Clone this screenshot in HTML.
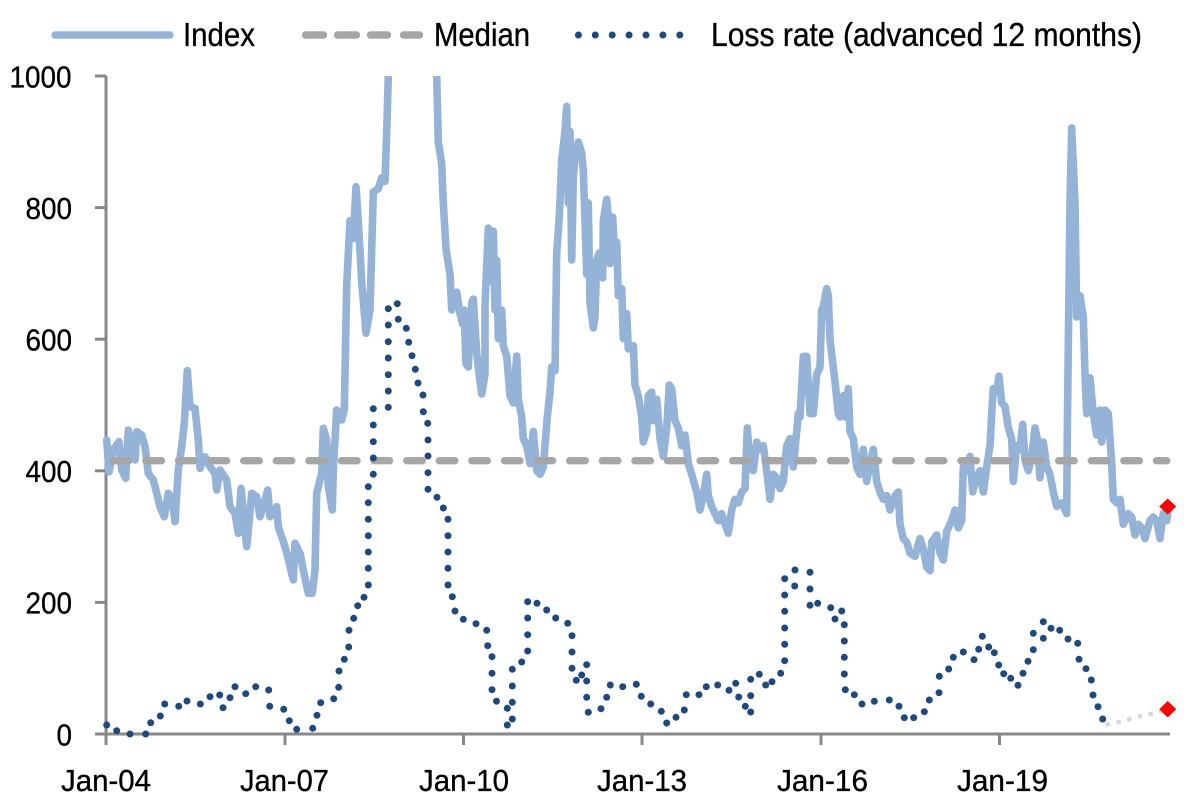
<!DOCTYPE html>
<html><head><meta charset="utf-8"><style>
html,body{margin:0;padding:0;background:#fff;}
svg{display:block;}
text{font-family:"Liberation Sans",Arial,sans-serif;fill:#000;stroke:#000;stroke-width:0.35px;}
</style></head><body>
<svg width="1198" height="811" viewBox="0 0 1198 811" xmlns="http://www.w3.org/2000/svg">
<defs><clipPath id="pc"><rect x="100" y="76" width="1090" height="670"/></clipPath></defs>
<rect width="1198" height="811" fill="#fff"/>

<!-- Legend -->
<line x1="55" y1="35" x2="170" y2="35" stroke="#95B3D7" stroke-width="7.4" stroke-linecap="round"/>
<text x="183" y="46" font-size="33" textLength="72" lengthAdjust="spacingAndGlyphs">Index</text>
<g stroke="#A6A6A6" stroke-width="7.4" stroke-linecap="round">
<line x1="305.5" y1="35" x2="323.5" y2="35"/><line x1="337.5" y1="35" x2="356.5" y2="35"/><line x1="370.5" y1="35" x2="387.5" y2="35"/><line x1="403.5" y1="35" x2="419.5" y2="35"/>
</g>
<text x="434" y="46" font-size="33" textLength="96" lengthAdjust="spacingAndGlyphs">Median</text>
<g fill="#1F497D">
<circle cx="578.4" cy="35" r="3.5"/><circle cx="595.3" cy="35" r="3.5"/><circle cx="612.2" cy="35" r="3.5"/><circle cx="629.1" cy="35" r="3.5"/><circle cx="646" cy="35" r="3.5"/><circle cx="662.9" cy="35" r="3.5"/><circle cx="679.8" cy="35" r="3.5"/>
</g>
<text x="711" y="46" font-size="33" textLength="431" lengthAdjust="spacingAndGlyphs">Loss rate (advanced 12 months)</text>

<!-- Axes -->
<g stroke="#888" stroke-width="3" fill="none">
<line x1="106" y1="76" x2="106" y2="745"/>
<line x1="104.5" y1="734" x2="1170" y2="734"/>
<line x1="95" y1="76" x2="106" y2="76"/>
<line x1="95" y1="207.6" x2="106" y2="207.6"/>
<line x1="95" y1="339.2" x2="106" y2="339.2"/>
<line x1="95" y1="470.8" x2="106" y2="470.8"/>
<line x1="95" y1="602.4" x2="106" y2="602.4"/>
<line x1="95" y1="734" x2="106" y2="734"/>
<line x1="285" y1="734" x2="285" y2="745"/>
<line x1="463.5" y1="734" x2="463.5" y2="745"/>
<line x1="642" y1="734" x2="642" y2="745"/>
<line x1="821" y1="734" x2="821" y2="745"/>
<line x1="999.5" y1="734" x2="999.5" y2="745"/>
</g>

<!-- Y labels -->
<g font-size="31">
<text x="9.5" y="87.3" textLength="62" lengthAdjust="spacingAndGlyphs">1000</text>
<text x="25.5" y="218.9" textLength="46.5" lengthAdjust="spacingAndGlyphs">800</text>
<text x="25.5" y="350.5" textLength="46.5" lengthAdjust="spacingAndGlyphs">600</text>
<text x="25.5" y="482.1" textLength="46.5" lengthAdjust="spacingAndGlyphs">400</text>
<text x="25.5" y="613.7" textLength="46.5" lengthAdjust="spacingAndGlyphs">200</text>
<text x="56.5" y="745.3" textLength="15.5" lengthAdjust="spacingAndGlyphs">0</text>
</g>
<!-- X labels -->
<g font-size="31">
<text x="61" y="791" textLength="90" lengthAdjust="spacingAndGlyphs">Jan-04</text>
<text x="240" y="791" textLength="89" lengthAdjust="spacingAndGlyphs">Jan-07</text>
<text x="419" y="791" textLength="90" lengthAdjust="spacingAndGlyphs">Jan-10</text>
<text x="597" y="791" textLength="90" lengthAdjust="spacingAndGlyphs">Jan-13</text>
<text x="777" y="791" textLength="91" lengthAdjust="spacingAndGlyphs">Jan-16</text>
<text x="957" y="791" textLength="91" lengthAdjust="spacingAndGlyphs">Jan-19</text>
</g>

<g clip-path="url(#pc)">
<!-- Index -->
<polyline fill="none" stroke="#95B3D7" stroke-width="7.6" stroke-linejoin="round" stroke-linecap="round" points="106.7,440 109,471.7 113.3,450 119,441.7 121.7,470 125.7,478.3 128.3,430 131.7,446.7 135,460 136.7,431.7 141.7,435 145,446.7 148.3,473.3 153.3,480 156.7,493.3 160,506.7 164.3,516.7 168.3,493.3 172.3,500 175,521.7 178.3,470 181.7,446.7 184.3,423.3 187.3,370.7 190,406.7 195,408.3 198.3,440 200,468.3 205,456.7 210,466.7 215,473.3 216.7,490 220,470 226.7,480 230,506.7 235,513.3 238.3,533.3 241,488.3 246.7,546.7 251.7,493.3 256.7,496.7 260,516.7 263.3,506.7 267.7,490 270,516.7 276.7,506.7 278.3,526.7 285,546.7 289.3,563.3 293.3,580 295,543.3 300,553.3 303.3,570 308.3,593.3 312.3,593.3 315,570 316.7,493.3 321.7,473.3 323.3,428.3 326.7,440 328.3,486.7 332.3,510 333.3,470 336.7,410 341.7,420 344.3,410 346.7,285 350,220.7 353.3,238.6 356,186.8 358.3,220.7 361.7,281.4 366,333.2 370,310 373.3,192.1 378.3,188.6 381.7,177.9 385,181.4 386.7,131.4 388.3,76 390,30 435,30 436.7,76 438.3,142 441.7,163.6 443.3,202.9 446,249.3 450,274.3 451.7,310 456.7,292.1 460,313.6 462.7,324 464,310 466,363.6 468.3,367 471.7,303 473.3,299 476.7,353 480,381 481.7,394 485,374 485,306 488.3,228 490,281 493.3,231 495,310 496.7,260 498.3,338.6 501.7,310 503.3,345.7 506.7,356 510,395.7 513.3,402.9 516.7,356 518.3,399 521.7,417 523.3,438.6 526.7,445.7 530,463.6 533.3,431.4 536.7,470.7 540,474.3 543.3,467 545,445.7 547.3,417 550,392 551.7,367 555,370.7 556.7,252.9 558.3,231.4 560,202.9 561.7,160 565,131.4 566.7,106.4 568.3,202.9 570,131.4 571.7,260 573.3,177.9 575,156.4 578.3,142 581.7,152.9 583.3,170.7 585,220.7 586.7,274.3 588.3,202.9 590,302.9 593.3,327.9 595,317 596.7,260 599.3,252.9 602.7,277.9 603.3,220.7 606.7,199.3 608.3,217 610,263.6 612.7,217 614,242 616.7,242 618.3,295.7 621.7,288.6 623.3,338.6 626.7,313.6 628.3,349 633.3,345.7 635,385 638.3,395.7 641.7,417 643.3,442 646.7,431.4 648.3,395.7 651.7,392 653.3,420.7 656.7,399.3 660,438.6 663.3,456.4 666.7,427.9 669.3,385 671.7,388.6 675,420.7 678.3,427.9 681.7,445.7 685,435 688.3,463.6 691.7,474.3 696.7,492 700,510 703.3,495.7 706.7,474.3 708.3,495.7 711.7,506.4 715,513.6 718.3,520.7 721.7,513.6 725,524.3 728.3,533.2 731.7,510 735,499.3 738.3,502.9 741.7,492 745,488.6 747.3,427.9 750,467 753.3,470.7 756.7,442 760,449.3 763.3,445.7 766.7,470.7 770,499.3 773.3,474.3 776.7,477.9 780,488.6 783.3,481.4 786.7,445.7 790,438.6 793.3,467 796.7,431.4 798.3,413.6 800,417 803.3,356.4 806.7,356.4 810,413.6 813.3,413.6 816.7,374.3 820,367 821.7,310 823.3,306.4 826.7,288.6 828.3,295.7 830,340 833.3,367 835,381.4 838.3,413.6 840,417 843.3,395.7 845,417 848.3,388.6 850,431.4 853.3,438.6 856.7,467 860,474.3 863.3,449.3 866.7,481.4 870,463.6 873.3,449.3 876.7,481.4 880,492 883.3,499.3 886.7,495.7 890,510 895,495.7 898.3,492 900,524.3 903.3,538.6 906.7,542 910,553 915,556.4 920,538.6 923.3,549.3 926.7,567 930,570.7 931.7,542 936.7,535 940,552.9 943.3,560 946.7,531.4 951.7,520.7 955,510 958.3,527.9 961.7,520.7 963.3,467 966.7,470.7 970,456.4 972.7,492 976.7,477.9 980,470.7 983.3,492 986.7,467 990,445.7 991.7,413.6 993.3,388.6 996.7,392 999,376 1001.7,402.9 1005,406.4 1008.3,427.9 1011.7,438.6 1013.3,481.4 1016.7,445.7 1020,449.3 1022.7,424.3 1025,460 1028.3,470.7 1031.7,456.4 1035,427.9 1037.3,438.6 1040,477.9 1043.3,442 1046.7,467 1050,474.3 1053.3,492 1056.7,506.4 1061.7,502.9 1066.7,513.6 1067.3,435 1068.3,345.7 1070,202.9 1071.7,127.9 1075,202.9 1076.7,317 1080,295.7 1083.3,317 1085,374.3 1086.7,413.6 1090,377.9 1093.3,413.6 1096.7,435 1100,410 1101.7,442 1105,410 1108.3,413.6 1111.7,463.6 1113.3,499.3 1116.7,502.9 1120,499.3 1123.3,524.3 1128.3,513.6 1131.7,517.1 1135,535 1138.3,524.3 1141.7,527.9 1145,538.6 1150,520.7 1153.3,517.1 1156.7,520.7 1160,538.6 1163.3,513.6 1166.7,520.7 1168.3,510"/>

<!-- Median -->
<line x1="113.3" y1="460.7" x2="1166.7" y2="460.7" stroke="#A6A6A6" stroke-width="7.4" stroke-linecap="round" stroke-dasharray="15.5 17.1"/>
</g>

<!-- Loss rate dots -->
<g fill="#1F497D">
<circle cx="106.7" cy="725" r="3.5"/><circle cx="116.7" cy="730.7" r="3.5"/><circle cx="130" cy="734" r="3.5"/><circle cx="145.7" cy="734" r="3.5"/><circle cx="150.7" cy="722.7" r="3.5"/><circle cx="160.3" cy="716" r="3.5"/><circle cx="164.7" cy="704" r="3.5"/><circle cx="178.7" cy="706.3" r="3.5"/><circle cx="187" cy="701" r="3.5"/><circle cx="200.3" cy="704" r="3.5"/><circle cx="210" cy="696.7" r="3.5"/><circle cx="219.7" cy="695" r="3.5"/><circle cx="223" cy="707.7" r="3.5"/><circle cx="230" cy="697.7" r="3.5"/><circle cx="235" cy="686.7" r="3.5"/><circle cx="245.7" cy="693.7" r="3.5"/><circle cx="255.7" cy="686.7" r="3.5"/><circle cx="268.7" cy="690" r="3.5"/><circle cx="269.7" cy="706.3" r="3.5"/><circle cx="283.7" cy="709.3" r="3.5"/><circle cx="289.3" cy="720.7" r="3.5"/><circle cx="296.7" cy="729.3" r="3.5"/><circle cx="312.7" cy="728.3" r="3.5"/><circle cx="317" cy="715.3" r="3.5"/><circle cx="320.7" cy="702.7" r="3.5"/><circle cx="333.7" cy="698.7" r="3.5"/><circle cx="338.7" cy="687.3" r="3.5"/><circle cx="339" cy="671" r="3.5"/><circle cx="344.3" cy="659.3" r="3.5"/><circle cx="348.7" cy="647" r="3.5"/><circle cx="349" cy="630.3" r="3.5"/><circle cx="353.7" cy="618.3" r="3.5"/><circle cx="357.7" cy="605.7" r="3.5"/><circle cx="364" cy="597.3" r="3.5"/><circle cx="368.3" cy="585" r="3.5"/><circle cx="368.3" cy="568.3" r="3.5"/><circle cx="368.3" cy="552" r="3.5"/><circle cx="368.3" cy="535.7" r="3.5"/><circle cx="368.3" cy="519.3" r="3.5"/><circle cx="368.3" cy="502.7" r="3.5"/><circle cx="368.3" cy="486.7" r="3.5"/><circle cx="373.3" cy="474.3" r="3.5"/><circle cx="373.3" cy="458" r="3.5"/><circle cx="373.3" cy="441.7" r="3.5"/><circle cx="373.3" cy="425" r="3.5"/><circle cx="373.3" cy="408.7" r="3.5"/><circle cx="388.3" cy="407.3" r="3.5"/><circle cx="388.3" cy="391" r="3.5"/><circle cx="388.3" cy="374.7" r="3.5"/><circle cx="388.3" cy="358" r="3.5"/><circle cx="388.3" cy="341.7" r="3.5"/><circle cx="388.3" cy="325" r="3.5"/><circle cx="388.3" cy="308.7" r="3.5"/><circle cx="397.3" cy="303.7" r="3.5"/><circle cx="398.3" cy="319.3" r="3.5"/><circle cx="406.3" cy="328.3" r="3.5"/><circle cx="408.7" cy="342.3" r="3.5"/><circle cx="412" cy="355.7" r="3.5"/><circle cx="415.3" cy="369.3" r="3.5"/><circle cx="418" cy="383" r="3.5"/><circle cx="423" cy="395" r="3.5"/><circle cx="423.3" cy="411.7" r="3.5"/><circle cx="427.7" cy="423.3" r="3.5"/><circle cx="428" cy="440" r="3.5"/><circle cx="428" cy="456" r="3.5"/><circle cx="428" cy="472.7" r="3.5"/><circle cx="428" cy="489.3" r="3.5"/><circle cx="437" cy="497.3" r="3.5"/><circle cx="443.3" cy="508" r="3.5"/><circle cx="448" cy="519.3" r="3.5"/><circle cx="448" cy="535.7" r="3.5"/><circle cx="448" cy="552" r="3.5"/><circle cx="448" cy="568.3" r="3.5"/><circle cx="448" cy="585" r="3.5"/><circle cx="452.3" cy="596.7" r="3.5"/><circle cx="455" cy="611" r="3.5"/><circle cx="463.3" cy="619.3" r="3.5"/><circle cx="476" cy="623.7" r="3.5"/><circle cx="486.7" cy="630.3" r="3.5"/><circle cx="487.7" cy="645.7" r="3.5"/><circle cx="492" cy="656.7" r="3.5"/><circle cx="492" cy="673.3" r="3.5"/><circle cx="492" cy="689.7" r="3.5"/><circle cx="496.5" cy="701.2" r="3.5"/>
<circle cx="507.3" cy="708.3" r="3.5"/><circle cx="507.3" cy="725" r="3.5"/><circle cx="512.3" cy="719" r="3.5"/><circle cx="512.3" cy="702.3" r="3.5"/><circle cx="512.3" cy="686" r="3.5"/><circle cx="512.3" cy="669.3" r="3.5"/><circle cx="521.7" cy="662" r="3.5"/><circle cx="527.7" cy="651" r="3.5"/><circle cx="527.7" cy="634.7" r="3.5"/><circle cx="527.7" cy="618" r="3.5"/><circle cx="527.7" cy="601.7" r="3.5"/><circle cx="537" cy="603.3" r="3.5"/><circle cx="546.7" cy="610" r="3.5"/><circle cx="555.7" cy="618" r="3.5"/><circle cx="567.7" cy="623.3" r="3.5"/><circle cx="572" cy="635.7" r="3.5"/><circle cx="572" cy="652" r="3.5"/><circle cx="572" cy="668.3" r="3.5"/><circle cx="576.3" cy="680.3" r="3.5"/><circle cx="581.7" cy="675" r="3.5"/><circle cx="586.7" cy="664.7" r="3.5"/><circle cx="586.7" cy="681" r="3.5"/><circle cx="586.7" cy="697.3" r="3.5"/><circle cx="588.3" cy="712.3" r="3.5"/><circle cx="601" cy="708.7" r="3.5"/><circle cx="606.7" cy="697.3" r="3.5"/><circle cx="610.3" cy="685" r="3.5"/><circle cx="622.7" cy="686.7" r="3.5"/><circle cx="636.3" cy="684.3" r="3.5"/><circle cx="641.3" cy="696.3" r="3.5"/><circle cx="650.7" cy="704" r="3.5"/><circle cx="661.3" cy="711.3" r="3.5"/><circle cx="666.7" cy="723" r="3.5"/><circle cx="676" cy="717.3" r="3.5"/><circle cx="684.3" cy="710" r="3.5"/><circle cx="686.3" cy="694.7" r="3.5"/><circle cx="699" cy="694.7" r="3.5"/><circle cx="706.3" cy="686.7" r="3.5"/><circle cx="717.7" cy="685" r="3.5"/><circle cx="729" cy="690.3" r="3.5"/><circle cx="735.7" cy="683.3" r="3.5"/><circle cx="738.7" cy="697" r="3.5"/><circle cx="745.3" cy="706.3" r="3.5"/><circle cx="750.7" cy="712" r="3.5"/><circle cx="750.7" cy="695.7" r="3.5"/><circle cx="750.7" cy="679.3" r="3.5"/><circle cx="759.3" cy="674.3" r="3.5"/><circle cx="765.7" cy="685" r="3.5"/><circle cx="772" cy="681.7" r="3.5"/><circle cx="780.7" cy="673.3" r="3.5"/><circle cx="784.7" cy="660.7" r="3.5"/><circle cx="784.7" cy="644.3" r="3.5"/><circle cx="784.7" cy="628" r="3.5"/><circle cx="784.7" cy="611.3" r="3.5"/><circle cx="784.7" cy="595" r="3.5"/><circle cx="784.7" cy="578.7" r="3.5"/><circle cx="795" cy="570" r="3.5"/><circle cx="794.7" cy="586" r="3.5"/><circle cx="810" cy="572.3" r="3.5"/><circle cx="810" cy="589" r="3.5"/><circle cx="810" cy="605.3" r="3.5"/><circle cx="817.7" cy="603.3" r="3.5"/>
<circle cx="830.7" cy="607.7" r="3.5"/><circle cx="835" cy="619" r="3.5"/><circle cx="841.7" cy="611" r="3.5"/><circle cx="844.3" cy="624.7" r="3.5"/><circle cx="844.3" cy="641" r="3.5"/><circle cx="844.3" cy="657.3" r="3.5"/><circle cx="844.3" cy="674" r="3.5"/><circle cx="845.3" cy="689.7" r="3.5"/><circle cx="854.3" cy="694.7" r="3.5"/><circle cx="862" cy="704" r="3.5"/><circle cx="874.3" cy="701.3" r="3.5"/><circle cx="889.3" cy="700" r="3.5"/><circle cx="899" cy="706.3" r="3.5"/><circle cx="904.3" cy="717.7" r="3.5"/><circle cx="913.7" cy="717.7" r="3.5"/><circle cx="924.3" cy="711.7" r="3.5"/><circle cx="929.3" cy="700" r="3.5"/><circle cx="939" cy="692.7" r="3.5"/><circle cx="939.3" cy="676.3" r="3.5"/><circle cx="948.7" cy="669" r="3.5"/><circle cx="953.3" cy="657.3" r="3.5"/><circle cx="963.3" cy="652" r="3.5"/><circle cx="974" cy="659.7" r="3.5"/><circle cx="978.7" cy="649.3" r="3.5"/><circle cx="982.3" cy="636.3" r="3.5"/><circle cx="988.7" cy="647" r="3.5"/><circle cx="994.3" cy="652.7" r="3.5"/><circle cx="998.7" cy="665" r="3.5"/><circle cx="1003.7" cy="673.7" r="3.5"/><circle cx="1010.7" cy="678.3" r="3.5"/><circle cx="1018" cy="685.3" r="3.5"/><circle cx="1023" cy="673.3" r="3.5"/><circle cx="1028" cy="661.3" r="3.5"/><circle cx="1033.3" cy="649.7" r="3.5"/><circle cx="1033.3" cy="633.3" r="3.5"/><circle cx="1043.3" cy="621.7" r="3.5"/><circle cx="1043.3" cy="638.3" r="3.5"/><circle cx="1051" cy="628.3" r="3.5"/><circle cx="1059.7" cy="630.3" r="3.5"/><circle cx="1068" cy="639" r="3.5"/><circle cx="1077.7" cy="643.3" r="3.5"/><circle cx="1079" cy="659.3" r="3.5"/><circle cx="1086" cy="668.7" r="3.5"/><circle cx="1091.3" cy="680" r="3.5"/><circle cx="1093" cy="695" r="3.5"/><circle cx="1098" cy="706.7" r="3.5"/><circle cx="1102.7" cy="719" r="3.5"/>
</g>
<g fill="#D9D9D9">
<circle cx="1107.7" cy="724.3" r="2.5"/><circle cx="1118.7" cy="722" r="2.5"/><circle cx="1129.3" cy="719.3" r="2.5"/><circle cx="1140" cy="716.3" r="2.5"/><circle cx="1150.7" cy="714" r="2.5"/><circle cx="1161.3" cy="711.3" r="2.5"/>
</g>
<!-- Red diamonds -->
<polygon points="1167.7,498.5 1176.2,506.5 1167.7,514.5 1159.2,506.5" fill="#FF0000"/>
<polygon points="1167.7,701 1176.2,709.3 1167.7,717.5 1159.2,709.3" fill="#FF0000"/>
</svg>
</body></html>
